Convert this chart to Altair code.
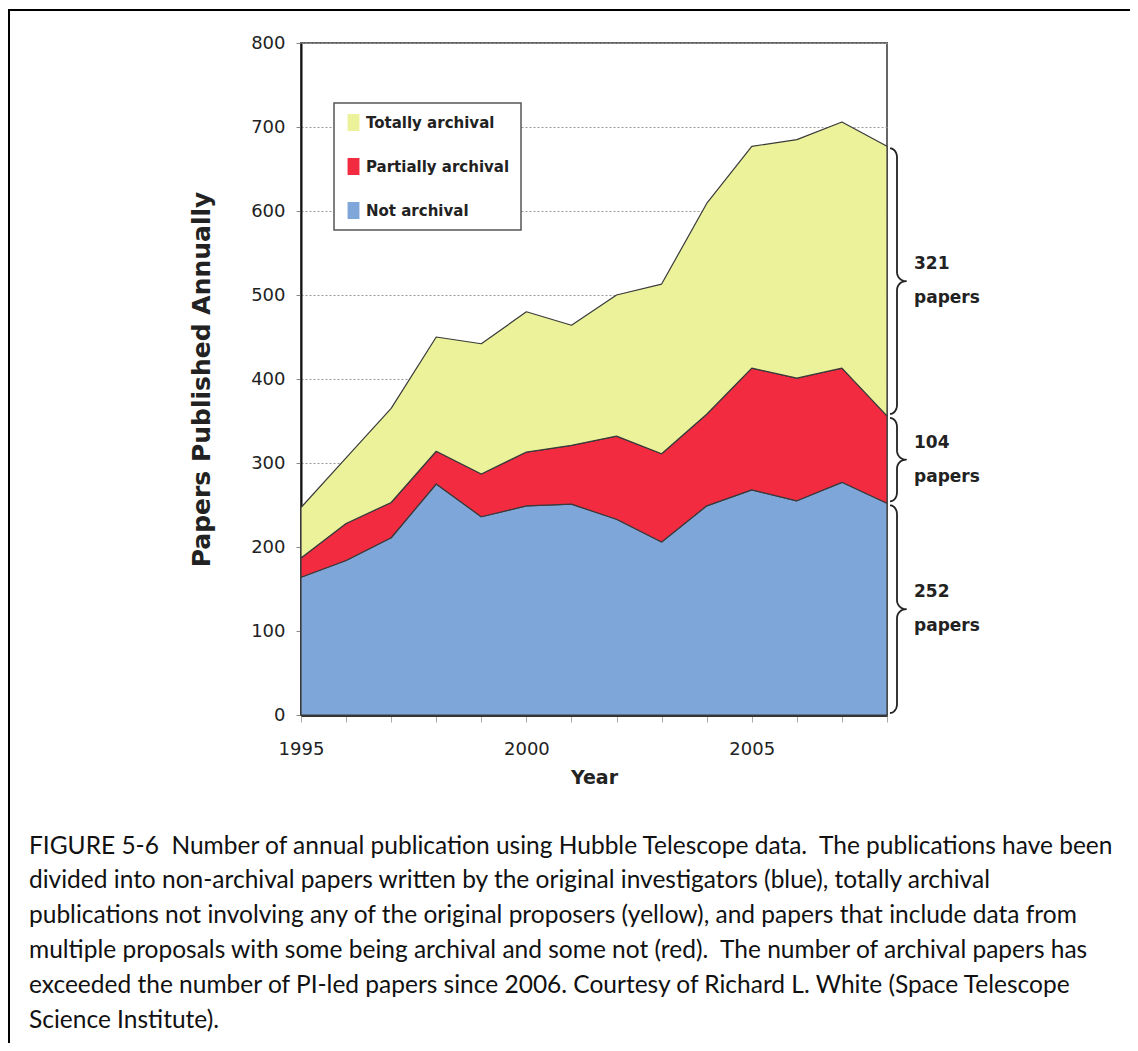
import altair as alt
import pandas as pd
import numpy as np

# ---------------- data ----------------
years = list(range(1995, 2009))
not_archival = [164, 184, 211, 275, 236, 249, 251, 233, 206, 249, 268, 255, 277, 252]
partially_archival = [23, 44, 42, 39, 51, 64, 70, 99, 105, 109, 145, 146, 136, 104]
totally_archival = [60, 78, 112, 136, 155, 167, 143, 168, 202, 251, 264, 284, 293, 321]

series_names = ["Totally archival", "Partially archival", "Not archival"]
series_colors = ["#EBF29A", "#F32B41", "#7FA6D9"]
stack_rank = {"Not archival": 0, "Partially archival": 1, "Totally archival": 2}

y_ticks = [0, 100, 200, 300, 400, 500, 600, 700, 800]
x_label_years = [1995, 2000, 2005]

NB2 = "\u00a0 "  # preserved double space
caption_lines = [
    "FIGURE 5-6" + NB2 + "Number of annual publication using Hubble Telescope data." + NB2 + "The publications have been",
    "divided into non-archival papers written by the original investigators (blue), totally archival",
    "publications not involving any of the original proposers (yellow), and papers that include data from",
    "multiple proposals with some being archival and some not (red)." + NB2 + "The number of archival papers has",
    "exceeded the number of PI-led papers since 2006. Courtesy of Richard L. White (Space Telescope",
    "Science Institute).",
]

# ---------------- layout ----------------
W, H = 586, 672
PAD_L, PAD_T = 293, 35
PAD_R = 1122 - W - PAD_L
PAD_B = 1035 - H - PAD_T
X_DOMAIN = [years[0], years[-1]]
Y_DOMAIN = [0, 800]
px_per_year = W / (X_DOMAIN[1] - X_DOMAIN[0])
px_per_unit = H / (Y_DOMAIN[1] - Y_DOMAIN[0])

SANS = "DejaVu Sans"

rows = []
for name, vals in [("Not archival", not_archival),
                   ("Partially archival", partially_archival),
                   ("Totally archival", totally_archival)]:
    for yr, v in zip(years, vals):
        rows.append({"year": yr, "value": v, "series": name, "rank": stack_rank[name]})
df = pd.DataFrame(rows)

xscale = alt.Scale(domain=X_DOMAIN, nice=False, zero=False)
yscale = alt.Scale(domain=Y_DOMAIN, nice=False)

area = alt.Chart(df).mark_area(
    stroke="#3a3a3a", strokeWidth=1.2, strokeJoin="round"
).encode(
    x=alt.X("year:Q", scale=xscale, axis=alt.Axis(
        values=years, format="d",
        labelExpr="indexof([" + ",".join(str(v) for v in x_label_years) + "], datum.value) >= 0 ? datum.label : ''",
        labelFont=SANS, labelFontSize=18, labelColor="#222",
        labelBaseline="middle", labelPadding=27, labelFlush=False,
        tickSize=7, tickColor="#aaaaaa", tickWidth=1,
        domainColor="#333333", domainWidth=3, grid=False,
        title="Year", titleFont=SANS, titleFontSize=19, titleFontWeight="bold",
        titleColor="#222", titleY=62, titleBaseline="middle")),
    y=alt.Y("value:Q", stack="zero", scale=yscale, axis=alt.Axis(
        values=y_ticks, labelFont=SANS, labelFontSize=18, labelColor="#222",
        labelPadding=11, tickSize=5, tickColor="#888888",
        domainColor="#111111", domainWidth=2,
        grid=True, gridDash=[2, 2], gridColor="#9a9a9a", gridWidth=1,
        title="Papers Published Annually", titleFont=SANS,
        titleFontSize=25, titleFontWeight="bold", titleColor="#222",
        titleAngle=270, titleX=-100, titleY=H / 2,
        titleAlign="center", titleBaseline="middle")),
    color=alt.Color("series:N", scale=alt.Scale(domain=series_names, range=series_colors),
                    legend=alt.Legend(
                        orient="none", legendX=33, legendY=60, title=None,
                        fillColor="white", strokeColor="#555555", padding=11,
                        rowPadding=27, labelFont=SANS, labelFontSize=15,
                        labelFontWeight="bold", labelColor="#222", labelOffset=4,
                        labelLimit=300,
                        symbolType="M-0.7,-1H0.7V1H-0.7Z", symbolSize=289,
                        symbolStrokeWidth=0, symbolOpacity=1)),
    order=alt.Order("rank:Q"),
)

# ---------------- braces on the right ----------------
last_blue = not_archival[-1]
last_red = partially_archival[-1]
last_yellow = totally_archival[-1]
ranges = [(0, last_blue), (last_blue, last_blue + last_red),
          (last_blue + last_red, last_blue + last_red + last_yellow)]
counts = [last_blue, last_red, last_yellow]

x0 = X_DOMAIN[1] + 3 / px_per_year
x1 = X_DOMAIN[1] + 10 / px_per_year
x2 = X_DOMAIN[1] + 19 / px_per_year
curl = 9 / px_per_unit
gap = 2 / px_per_unit
t = np.linspace(0, np.pi / 2, 12)

brace_rows = []
for bid, (lo, hi) in enumerate(ranges):
    y0, y1 = lo + gap, hi - gap
    m = (lo + hi) / 2
    pts = []
    pts += list(zip(x0 + (x1 - x0) * np.sin(t), y0 + curl * (1 - np.cos(t))))
    pts += list(zip(x1 + (x2 - x1) * (1 - np.cos(t)), m - curl + curl * np.sin(t)))
    pts += list(zip(x1 + (x2 - x1) * (1 - np.sin(t)), m + curl * (1 - np.cos(t))))
    pts += list(zip(x1 - (x1 - x0) * (1 - np.cos(t)), y1 - curl + curl * np.sin(t)))
    for i, (bx, by) in enumerate(pts):
        brace_rows.append({"bid": bid, "i": i, "bx": float(bx), "by": float(by)})
bdf = pd.DataFrame(brace_rows)

braces = alt.Chart(bdf).mark_line(color="#222", strokeWidth=1.8, strokeJoin="round").encode(
    x=alt.X("bx:Q", scale=xscale),
    y=alt.Y("by:Q", scale=yscale),
    detail="bid:N",
    order="i:Q",
)

ldf = pd.DataFrame({
    "lx": [X_DOMAIN[1]] * 3,
    "mid": [(lo + hi) / 2 for lo, hi in ranges],
    "num": [str(c) for c in counts],
    "word": ["papers"] * 3,
})
lbl_common = dict(align="left", baseline="middle", dx=27, font=SANS,
                  fontSize=17, fontWeight="bold", color="#222")
brace_num = alt.Chart(ldf).mark_text(dy=-17, **lbl_common).encode(
    x=alt.X("lx:Q", scale=xscale), y=alt.Y("mid:Q", scale=yscale), text="num:N")
brace_word = alt.Chart(ldf).mark_text(dy=17, **lbl_common).encode(
    x=alt.X("lx:Q", scale=xscale), y=alt.Y("mid:Q", scale=yscale), text="word:N")

# ---------------- frame & caption ----------------
one = pd.DataFrame({"a": [0]})
FRAME_X = 9 - (8 + PAD_L)
FRAME_Y = 10 - (8 + PAD_T)
frame_top = alt.Chart(one).mark_rule(color="black", strokeWidth=2).encode(
    x=alt.value(FRAME_X - 1), x2=alt.value(W + PAD_R + 20), y=alt.value(FRAME_Y))
frame_left = alt.Chart(one).mark_rule(color="black", strokeWidth=2).encode(
    x=alt.value(FRAME_X), y=alt.value(FRAME_Y), y2=alt.value(H + PAD_B + 20))

caption = alt.Chart(one).mark_text(
    align="left", baseline="top", lineBreak="\n", lineHeight=34.8,
    font="Lato", fontSize=24.5, color="#111"
).encode(
    x=alt.value(29 - (8 + PAD_L)),
    y=alt.value(834.5 - (8 + PAD_T)),
    text=alt.value("\n".join(caption_lines)),
)

chart = alt.layer(
    area, braces, brace_num, brace_word, frame_top, frame_left, caption
).properties(
    width=W, height=H,
    autosize=alt.AutoSizeParams(type="none"),
    padding={"left": PAD_L, "top": PAD_T, "right": PAD_R, "bottom": PAD_B},
    background="white",
).configure_view(
    stroke="#666666", strokeWidth=2
).configure_legend(
    strokeWidth=1.5
)

chart.save("out.html", embed_options={"renderer": "svg", "actions": False})
